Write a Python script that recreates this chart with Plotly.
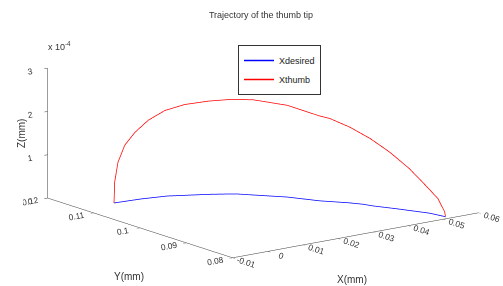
import plotly.graph_objects as go

# Xdesired (blue) trajectory, z in units of 1e-4 mm
x_desired = [-0.0007, 0.0065, 0.0129, 0.0145, 0.0213, 0.0251, 0.0266, 0.0291, 0.0341,
             0.0379, 0.0422, 0.0438, 0.0447, 0.0474, 0.0509, 0.0518]
y_desired = [0.1127, 0.1123, 0.1115, 0.1110, 0.1090, 0.1076, 0.1070, 0.1052, 0.1017,
             0.0975, 0.0943, 0.0927, 0.0912, 0.0881, 0.0837, 0.0809]
z_desired = [0, 0, 0, 0, 0, 0, 0, 0, 0, 0, 0, 0, 0, 0, 0, 0]

# Xthumb (red) trajectory, z in units of 1e-4 mm
x_thumb = [-0.0007, -0.0005, 0.0003, 0.0021, 0.0046, 0.0080, 0.0123, 0.0164, 0.0211,
           0.0256, 0.0291, 0.0341, 0.0379, 0.0393, 0.0422, 0.0444, 0.0464, 0.0484,
           0.0500, 0.0511, 0.0517, 0.0518]
y_thumb = [0.1127, 0.1127, 0.1126, 0.1125, 0.1122, 0.1119, 0.1116, 0.1104, 0.1089,
           0.1073, 0.1052, 0.1017, 0.0975, 0.0964, 0.0943, 0.0916, 0.0889, 0.0861,
           0.0837, 0.0820, 0.0810, 0.0809]
z_thumb = [0, 0.48, 0.93, 1.30, 1.57, 1.81, 1.98, 2.10, 2.16,
           2.19, 2.20, 2.12, 1.96, 1.92, 1.75, 1.55, 1.30, 0.98,
           0.64, 0.39, 0.11, 0]

z_scale = 1e-4
x_ticks = [-0.01, 0, 0.01, 0.02, 0.03, 0.04, 0.05, 0.06]
y_ticks = [0.08, 0.09, 0.1, 0.11, 0.12]
z_ticks = [0, 1, 2, 3]

fig = go.Figure()
fig.add_trace(go.Scatter3d(x=x_desired, y=y_desired, z=[v * z_scale for v in z_desired],
                           mode="lines", name="Xdesired",
                           line=dict(color="#0000FF", width=1.5)))
fig.add_trace(go.Scatter3d(x=x_thumb, y=y_thumb, z=[v * z_scale for v in z_thumb],
                           mode="lines", name="Xthumb",
                           line=dict(color="#FF0000", width=1.5)))

axis_common = dict(showbackground=False, showgrid=False, zeroline=False,
                   showline=True, linecolor="#3a3a3a", linewidth=1,
                   ticks="outside", ticklen=4, tickcolor="#3a3a3a",
                   tickfont=dict(family="Liberation Sans, Arial", size=10, color="#333333"),
                   showspikes=False, title=dict(text=""))

k = 2.19
fig.update_layout(
    width=503, height=286,
    margin=dict(l=0, r=0, t=0, b=0),
    paper_bgcolor="white",
    font=dict(family="Liberation Sans, Arial", size=10, color="#333333"),
    scene=dict(
        domain=dict(x=[0.046, 1.0], y=[0.018, 1.0]),
        xaxis=dict(range=[-0.01, 0.06], tickvals=x_ticks,
                   ticktext=[str(v) for v in x_ticks], **axis_common),
        yaxis=dict(range=[0.08, 0.12], tickvals=y_ticks,
                   ticktext=[str(v) for v in y_ticks], **axis_common),
        zaxis=dict(range=[0, 3 * z_scale], tickvals=[v * z_scale for v in z_ticks],
                   ticktext=[str(v) for v in z_ticks], **axis_common),
        aspectmode="manual",
        aspectratio=dict(x=1 * k, y=1 * k, z=0.435 * k),
        camera=dict(eye=dict(x=-0.583 * 2.2, y=-0.774 * 2.2, z=0.243 * 2.2),
                    up=dict(x=0, y=0, z=1),
                    center=dict(x=0, y=0, z=0),
                    projection=dict(type="orthographic")),
    ),
    showlegend=True,
    legend=dict(x=238 / 503, y=1 - 45 / 286, xanchor="left", yanchor="top",
                bgcolor="white", bordercolor="#333333", borderwidth=1,
                itemwidth=30, tracegroupgap=0,
                font=dict(size=9, color="#222222")),
    title=dict(text="Trajectory of the thumb tip", x=261 / 503, y=1 - 15 / 286,
               xanchor="center", yanchor="middle",
               font=dict(size=9, color="#333333")),
    annotations=[
        dict(text="x 10<sup>-4</sup>", x=46 / 503, y=1 - 46 / 286, xref="paper", yref="paper",
             showarrow=False, xanchor="left", yanchor="middle", font=dict(size=9)),
        dict(text="X(mm)", x=352 / 503, y=1 - 279 / 286, xref="paper", yref="paper",
             showarrow=False, xanchor="center", yanchor="middle", font=dict(size=10)),
        dict(text="Y(mm)", x=129 / 503, y=1 - 276 / 286, xref="paper", yref="paper",
             showarrow=False, xanchor="center", yanchor="middle", font=dict(size=10)),
        dict(text="Z(mm)", x=21 / 503, y=1 - 134 / 286, xref="paper", yref="paper",
             showarrow=False, xanchor="center", yanchor="middle", textangle=-90,
             font=dict(size=10)),
    ],
)

fig.write_html("out.html", config={"displayModeBar": False},
               post_script="document.body.style.margin='0px';")
